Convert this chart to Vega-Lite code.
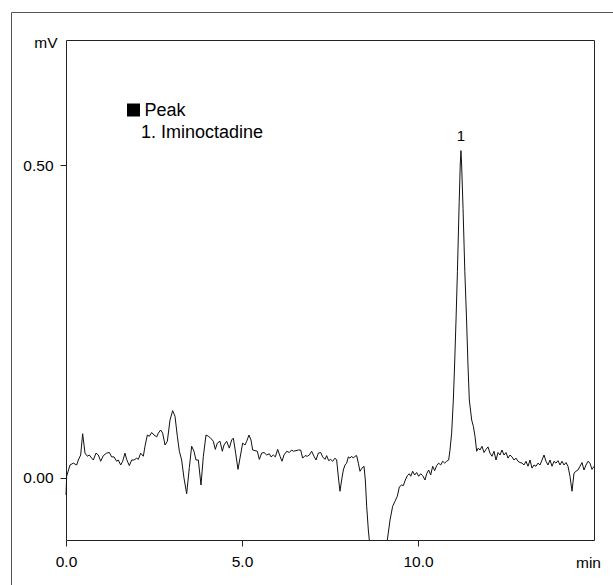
{
  "$schema": "https://vega.github.io/schema/vega-lite/v6.json",
  "width": 602,
  "height": 573,
  "autosize": {"type": "none"},
  "padding": {"left": 11, "top": 12, "right": 0, "bottom": 0},
  "background": "white",
  "datasets": {
    "trace": [
      {"t": 0, "mV": -0.028}, {"t": 0.019, "mV": 0.002}, {"t": 0.114, "mV": 0.020}, {"t": 0.208, "mV": 0.023},
      {"t": 0.303, "mV": 0.020}, {"t": 0.350, "mV": 0.028}, {"t": 0.417, "mV": 0.036}, {"t": 0.473, "mV": 0.070},
      {"t": 0.540, "mV": 0.039}, {"t": 0.606, "mV": 0.034}, {"t": 0.663, "mV": 0.036}, {"t": 0.729, "mV": 0.031},
      {"t": 0.777, "mV": 0.028}, {"t": 0.852, "mV": 0.039}, {"t": 0.919, "mV": 0.036}, {"t": 0.985, "mV": 0.026},
      {"t": 1.061, "mV": 0.035}, {"t": 1.155, "mV": 0.039}, {"t": 1.231, "mV": 0.040}, {"t": 1.297, "mV": 0.033},
      {"t": 1.364, "mV": 0.033}, {"t": 1.439, "mV": 0.026}, {"t": 1.487, "mV": 0.028}, {"t": 1.553, "mV": 0.020},
      {"t": 1.610, "mV": 0.026}, {"t": 1.676, "mV": 0.039}, {"t": 1.723, "mV": 0.029}, {"t": 1.799, "mV": 0.019},
      {"t": 1.866, "mV": 0.028}, {"t": 1.932, "mV": 0.028}, {"t": 2.008, "mV": 0.031}, {"t": 2.055, "mV": 0.029},
      {"t": 2.121, "mV": 0.039}, {"t": 2.197, "mV": 0.034}, {"t": 2.244, "mV": 0.050}, {"t": 2.311, "mV": 0.068},
      {"t": 2.367, "mV": 0.066}, {"t": 2.434, "mV": 0.072}, {"t": 2.500, "mV": 0.068}, {"t": 2.576, "mV": 0.065},
      {"t": 2.623, "mV": 0.071}, {"t": 2.689, "mV": 0.076}, {"t": 2.746, "mV": 0.071}, {"t": 2.813, "mV": 0.052},
      {"t": 2.879, "mV": 0.058}, {"t": 2.955, "mV": 0.092}, {"t": 3.030, "mV": 0.107}, {"t": 3.097, "mV": 0.098},
      {"t": 3.163, "mV": 0.066}, {"t": 3.220, "mV": 0.042}, {"t": 3.286, "mV": 0.028}, {"t": 3.352, "mV": -0.001},
      {"t": 3.428, "mV": -0.026}, {"t": 3.504, "mV": 0.016}, {"t": 3.570, "mV": 0.050}, {"t": 3.636, "mV": 0.042},
      {"t": 3.693, "mV": 0.028}, {"t": 3.759, "mV": 0.028}, {"t": 3.835, "mV": -0.012}, {"t": 3.902, "mV": 0.034},
      {"t": 3.977, "mV": 0.068}, {"t": 4.044, "mV": 0.066}, {"t": 4.110, "mV": 0.063}, {"t": 4.186, "mV": 0.058},
      {"t": 4.242, "mV": 0.045}, {"t": 4.299, "mV": 0.055}, {"t": 4.375, "mV": 0.058}, {"t": 4.441, "mV": 0.042},
      {"t": 4.489, "mV": 0.052}, {"t": 4.564, "mV": 0.058}, {"t": 4.640, "mV": 0.047}, {"t": 4.706, "mV": 0.060},
      {"t": 4.754, "mV": 0.063}, {"t": 4.820, "mV": 0.039}, {"t": 4.886, "mV": 0.013}, {"t": 4.943, "mV": 0.031},
      {"t": 5.019, "mV": 0.055}, {"t": 5.085, "mV": 0.052}, {"t": 5.133, "mV": 0.058}, {"t": 5.199, "mV": 0.068},
      {"t": 5.256, "mV": 0.060}, {"t": 5.303, "mV": 0.044}, {"t": 5.369, "mV": 0.043}, {"t": 5.436, "mV": 0.042},
      {"t": 5.492, "mV": 0.029}, {"t": 5.559, "mV": 0.039}, {"t": 5.625, "mV": 0.040}, {"t": 5.701, "mV": 0.036},
      {"t": 5.777, "mV": 0.038}, {"t": 5.824, "mV": 0.033}, {"t": 5.890, "mV": 0.036}, {"t": 5.947, "mV": 0.033},
      {"t": 6.013, "mV": 0.045}, {"t": 6.080, "mV": 0.034}, {"t": 6.136, "mV": 0.026}, {"t": 6.193, "mV": 0.036},
      {"t": 6.269, "mV": 0.042}, {"t": 6.345, "mV": 0.040}, {"t": 6.411, "mV": 0.044}, {"t": 6.458, "mV": 0.042},
      {"t": 6.534, "mV": 0.043}, {"t": 6.600, "mV": 0.044}, {"t": 6.667, "mV": 0.044}, {"t": 6.723, "mV": 0.031},
      {"t": 6.790, "mV": 0.035}, {"t": 6.856, "mV": 0.034}, {"t": 6.913, "mV": 0.036}, {"t": 6.979, "mV": 0.042},
      {"t": 7.045, "mV": 0.034}, {"t": 7.102, "mV": 0.028}, {"t": 7.169, "mV": 0.039}, {"t": 7.235, "mV": 0.040},
      {"t": 7.292, "mV": 0.033}, {"t": 7.358, "mV": 0.029}, {"t": 7.405, "mV": 0.035}, {"t": 7.462, "mV": 0.027},
      {"t": 7.519, "mV": 0.029}, {"t": 7.576, "mV": 0.026}, {"t": 7.642, "mV": 0.031}, {"t": 7.689, "mV": 0.028},
      {"t": 7.746, "mV": -0.004}, {"t": 7.784, "mV": -0.022}, {"t": 7.831, "mV": -0.004}, {"t": 7.879, "mV": 0.012},
      {"t": 7.926, "mV": 0.020}, {"t": 7.973, "mV": 0.023}, {"t": 8.021, "mV": 0.033}, {"t": 8.068, "mV": 0.031},
      {"t": 8.116, "mV": 0.034}, {"t": 8.163, "mV": 0.031}, {"t": 8.210, "mV": 0.034}, {"t": 8.258, "mV": 0.035},
      {"t": 8.305, "mV": 0.023}, {"t": 8.352, "mV": 0.010}, {"t": 8.409, "mV": 0.015}, {"t": 8.466, "mV": 0.018},
      {"t": 8.504, "mV": -0.004}, {"t": 8.542, "mV": -0.046}, {"t": 8.589, "mV": -0.084}, {"t": 8.617, "mV": -0.100},
      {"t": 8.870, "mV": null}, {"t": 9.129, "mV": -0.100}, {"t": 9.205, "mV": -0.068},
      {"t": 9.280, "mV": -0.046}, {"t": 9.347, "mV": -0.038}, {"t": 9.413, "mV": -0.030}, {"t": 9.470, "mV": -0.015},
      {"t": 9.536, "mV": -0.012}, {"t": 9.583, "mV": -0.013}, {"t": 9.640, "mV": -0.004}, {"t": 9.697, "mV": 0.003},
      {"t": 9.754, "mV": 0.006}, {"t": 9.792, "mV": 0.002}, {"t": 9.848, "mV": 0.010}, {"t": 9.905, "mV": 0.004},
      {"t": 9.962, "mV": 0.008}, {"t": 10.019, "mV": 0.002}, {"t": 10.076, "mV": 0.006}, {"t": 10.133, "mV": 0.003},
      {"t": 10.199, "mV": -0.004}, {"t": 10.246, "mV": 0.006}, {"t": 10.303, "mV": 0.012}, {"t": 10.360, "mV": 0.004},
      {"t": 10.417, "mV": 0.018}, {"t": 10.473, "mV": 0.011}, {"t": 10.530, "mV": 0.019}, {"t": 10.587, "mV": 0.023},
      {"t": 10.644, "mV": 0.020}, {"t": 10.701, "mV": 0.026}, {"t": 10.758, "mV": 0.023}, {"t": 10.814, "mV": 0.026},
      {"t": 10.871, "mV": 0.028}, {"t": 10.909, "mV": 0.044}, {"t": 10.956, "mV": 0.071}, {"t": 11.004, "mV": 0.124},
      {"t": 11.040, "mV": 0.180}, {"t": 11.080, "mV": 0.252}, {"t": 11.120, "mV": 0.330}, {"t": 11.170, "mV": 0.440},
      {"t": 11.200, "mV": 0.500}, {"t": 11.220, "mV": 0.523}, {"t": 11.240, "mV": 0.500}, {"t": 11.280, "mV": 0.430},
      {"t": 11.330, "mV": 0.330}, {"t": 11.380, "mV": 0.252}, {"t": 11.420, "mV": 0.180}, {"t": 11.458, "mV": 0.124},
      {"t": 11.525, "mV": 0.092}, {"t": 11.572, "mV": 0.082}, {"t": 11.619, "mV": 0.066}, {"t": 11.667, "mV": 0.042},
      {"t": 11.714, "mV": 0.047}, {"t": 11.761, "mV": 0.044}, {"t": 11.818, "mV": 0.050}, {"t": 11.875, "mV": 0.040},
      {"t": 11.932, "mV": 0.045}, {"t": 11.989, "mV": 0.049}, {"t": 12.045, "mV": 0.039}, {"t": 12.102, "mV": 0.034},
      {"t": 12.159, "mV": 0.042}, {"t": 12.216, "mV": 0.028}, {"t": 12.273, "mV": 0.040}, {"t": 12.330, "mV": 0.036},
      {"t": 12.386, "mV": 0.044}, {"t": 12.443, "mV": 0.036}, {"t": 12.500, "mV": 0.040}, {"t": 12.557, "mV": 0.031},
      {"t": 12.614, "mV": 0.036}, {"t": 12.670, "mV": 0.033}, {"t": 12.727, "mV": 0.028}, {"t": 12.784, "mV": 0.031},
      {"t": 12.841, "mV": 0.026}, {"t": 12.898, "mV": 0.024}, {"t": 12.955, "mV": 0.023}, {"t": 13.011, "mV": 0.020},
      {"t": 13.068, "mV": 0.026}, {"t": 13.125, "mV": 0.018}, {"t": 13.182, "mV": 0.028}, {"t": 13.239, "mV": 0.015},
      {"t": 13.295, "mV": 0.020}, {"t": 13.352, "mV": 0.018}, {"t": 13.409, "mV": 0.023}, {"t": 13.466, "mV": 0.020},
      {"t": 13.523, "mV": 0.028}, {"t": 13.580, "mV": 0.036}, {"t": 13.636, "mV": 0.026}, {"t": 13.693, "mV": 0.020},
      {"t": 13.750, "mV": 0.028}, {"t": 13.807, "mV": 0.018}, {"t": 13.864, "mV": 0.026}, {"t": 13.920, "mV": 0.023},
      {"t": 13.977, "mV": 0.027}, {"t": 14.034, "mV": 0.020}, {"t": 14.091, "mV": 0.026}, {"t": 14.148, "mV": 0.020},
      {"t": 14.205, "mV": 0.024}, {"t": 14.261, "mV": 0.018}, {"t": 14.318, "mV": 0.002}, {"t": 14.375, "mV": -0.022},
      {"t": 14.432, "mV": 0.007}, {"t": 14.489, "mV": 0.010}, {"t": 14.545, "mV": 0.012}, {"t": 14.602, "mV": 0.018},
      {"t": 14.659, "mV": 0.024}, {"t": 14.716, "mV": 0.012}, {"t": 14.773, "mV": 0.020}, {"t": 14.830, "mV": 0.026},
      {"t": 14.886, "mV": 0.023}, {"t": 14.943, "mV": 0.013}, {"t": 15.000, "mV": 0.018}
    ],
    "peaks": [
      {"t": 11.22, "mV": 0.523, "no": "1", "label": "1. Iminoctadine"}
    ],
    "legendHead": [
      {"title": "Peak"}
    ]
  },
  "resolve": {"axis": {"x": "independent", "y": "independent"}},
  "layer": [
    {
      "data": {"name": "trace"},
      "mark": {"type": "line", "color": "#111111", "strokeWidth": 1},
      "encoding": {
        "x": {
          "field": "t", "type": "quantitative",
          "scale": {"domain": [0, 15], "range": [55, 583], "nice": false, "zero": false},
          "axis": {
            "orient": "bottom", "offset": -45,
            "values": [0, 5, 10], "format": ".1f", "labelFlush": false,
            "title": "min", "titleAngle": 0, "titleX": 577, "titleY": 27,
            "titleAlign": "center", "titleBaseline": "alphabetic"
          }
        },
        "y": {
          "field": "mV", "type": "quantitative",
          "scale": {"domain": [-0.1, 0.7], "range": [528, 28], "nice": false, "zero": false},
          "axis": {
            "orient": "left", "offset": -55,
            "values": [0, 0.5], "format": ".2f", "labelFlush": false,
            "title": "mV", "titleAngle": 0, "titleX": -9, "titleY": 30,
            "titleAlign": "right", "titleBaseline": "middle"
          }
        }
      }
    },
    {
      "data": {"name": "peaks"},
      "mark": {"type": "text", "dy": -10, "baseline": "alphabetic", "align": "center", "fontSize": 15, "font": "Liberation Sans", "color": "#000000"},
      "encoding": {
        "x": {
          "field": "t", "type": "quantitative",
          "axis": {"orient": "top", "offset": -28, "labels": false, "ticks": false, "title": null, "domain": true}
        },
        "y": {
          "field": "mV", "type": "quantitative",
          "axis": {"orient": "right", "offset": -19, "labels": false, "ticks": false, "title": null, "domain": true}
        },
        "text": {"field": "no"}
      }
    },
    {
      "data": {"name": "legendHead"},
      "mark": {"type": "point", "shape": "square", "filled": true, "size": 169, "color": "#000000", "opacity": 1, "strokeWidth": 0},
      "encoding": {
        "x": {"datum": 1.918, "type": "quantitative", "axis": null},
        "y": {"datum": 0.588, "type": "quantitative", "axis": null}
      }
    },
    {
      "data": {"name": "legendHead"},
      "mark": {"type": "text", "align": "left", "baseline": "alphabetic", "fontSize": 18, "font": "Liberation Sans", "color": "#000000"},
      "encoding": {
        "x": {"datum": 2.23, "type": "quantitative", "axis": null},
        "y": {"datum": 0.5784, "type": "quantitative", "axis": null},
        "text": {"field": "title"}
      }
    },
    {
      "data": {"name": "peaks"},
      "mark": {"type": "text", "align": "left", "baseline": "alphabetic", "fontSize": 18, "font": "Liberation Sans", "color": "#000000"},
      "encoding": {
        "x": {"datum": 2.13, "type": "quantitative", "axis": null},
        "y": {"datum": 0.5432, "type": "quantitative", "axis": null},
        "text": {"field": "label"}
      }
    }
  ],
  "config": {
    "font": "Liberation Sans",
    "view": {"stroke": "#555555", "strokeWidth": 1},
    "axis": {
      "domain": true, "domainColor": "#222222", "domainWidth": 1,
      "grid": false, "tickSize": 6, "tickColor": "#222222",
      "labelFont": "Liberation Sans", "labelFontSize": 15.5, "labelColor": "#000000",
      "titleFont": "Liberation Sans", "titleFontSize": 15.5, "titleFontWeight": "normal", "titleColor": "#000000"
    },
    "axisX": {"labelPadding": 8},
    "axisY": {"labelPadding": 7}
  }
}
